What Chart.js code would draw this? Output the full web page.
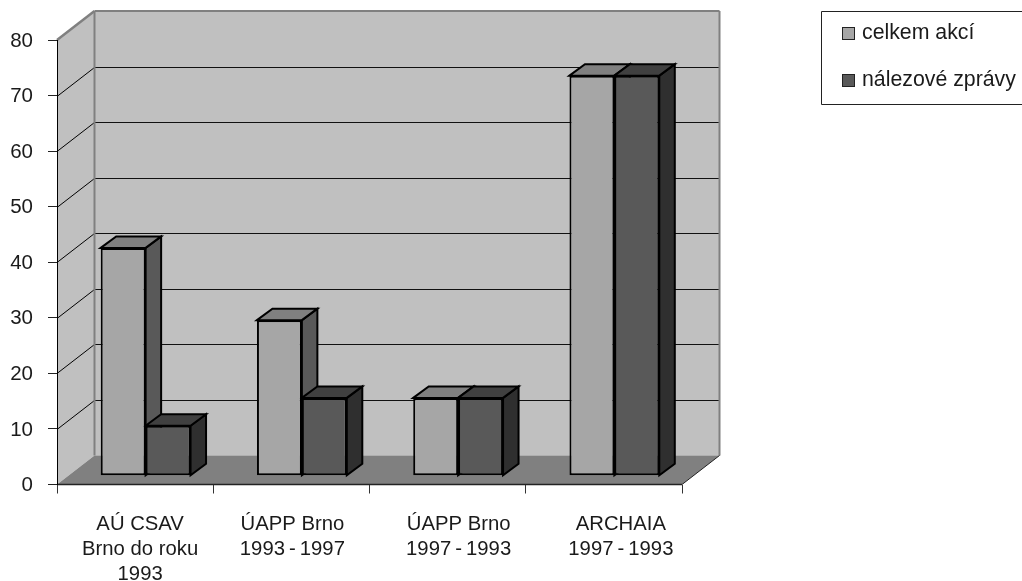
<!DOCTYPE html>
<html><head><meta charset="utf-8">
<style>html,body{margin:0;padding:0;background:#fff}canvas{display:block}</style>
<script src="https://cdn.jsdelivr.net/npm/chart.js@4"></script>
</head><body><canvas id="c" width="1022" height="581"></canvas>
<script>
const categories = [["AÚ CSAV","Brno do roku","1993"],["ÚAPP Brno","1993\u2009-\u20091997"],["ÚAPP Brno","1997\u2009-\u20091993"],["ARCHAIA","1997\u2009-\u20091993"]];
const celkemAkci = [41,28,14,72];
const nalezoveZpravy = [9,14,14,72];
const seriesNames = ["celkem akcí","nálezové zprávy"];
const yTicks = [0,10,20,30,40,50,60,70,80];

const FAMILY = '"Liberation Sans", Arial, sans-serif';
const FONT = '21.3px ' + FAMILY;
const WALL = {dx:37.5, dy:-29};
const BAR = {dx:10.5, dy:-8.8, depthX:15.5, depthY:-11.5};
const faces = [
  {front:'#a6a6a6', top:'#808080', side:'#595959'},
  {front:'#595959', top:'#404040', side:'#2f2f2f'}
];
const labelShift = [5,1,11,17];

function poly(ctx,pts,fill,stroke,lw){
  ctx.beginPath();
  pts.forEach((p,i)=>i?ctx.lineTo(p[0],p[1]):ctx.moveTo(p[0],p[1]));
  ctx.closePath();
  if(fill){ctx.fillStyle=fill;ctx.fill();}
  if(stroke){ctx.strokeStyle=stroke;ctx.lineWidth=lw;ctx.lineJoin='miter';ctx.stroke();}
}
function line(ctx,x1,y1,x2,y2,c,w){
  ctx.beginPath();ctx.moveTo(x1,y1);ctx.lineTo(x2,y2);ctx.strokeStyle=c;ctx.lineWidth=w;ctx.stroke();
}
const scene3d = {
  id:'scene3d',
  beforeDraw(chart){
    const {ctx,chartArea:a,scales:{y,x}}=chart;
    const d=WALL;
    ctx.save();
    poly(ctx,[[a.left+d.dx,a.top+d.dy],[a.right+d.dx,a.top+d.dy],[a.right+d.dx,a.bottom+d.dy],[a.left+d.dx,a.bottom+d.dy]],'#c0c0c0');
    poly(ctx,[[a.left,a.top],[a.left+d.dx,a.top+d.dy],[a.left+d.dx,a.bottom+d.dy],[a.left,a.bottom]],'#c0c0c0');
    poly(ctx,[[a.left,a.bottom],[a.left+d.dx,a.bottom+d.dy],[a.right+d.dx,a.bottom+d.dy],[a.right,a.bottom]],'#808080');
    yTicks.forEach(v=>{
      const py=Math.round(y.getPixelForValue(v))+0.5;
      if(v>0&&v<80){
        line(ctx,a.left,py,a.left+d.dx,py+d.dy,'#000',1);
        line(ctx,a.left+d.dx,py+d.dy,a.right+d.dx,py+d.dy,'#111',1);
      }
    });
    line(ctx,a.left+d.dx,a.top+d.dy,a.right+d.dx,a.top+d.dy,'#808080',2);
    line(ctx,a.left,a.top,a.left+d.dx,a.top+d.dy,'#808080',2.5);
    line(ctx,a.left+d.dx,a.top+d.dy,a.left+d.dx,a.bottom+d.dy,'#808080',2);
    line(ctx,a.right+d.dx,a.top+d.dy,a.right+d.dx,a.bottom+d.dy,'#808080',2);
    line(ctx,a.left,a.bottom,a.right,a.bottom,'#222',1.5);
    line(ctx,a.right,a.bottom,a.right+d.dx,a.bottom+d.dy,'#222',1);
    ctx.restore();
    if(!x.$shifted){
      x.getLabelItems().forEach((it,i)=>{it.options.translation[0]+=labelShift[i];});
      y.getLabelItems().forEach(it=>{it.options.translation[1]+=1;});
      x.$shifted=true;
    }
  },
  beforeDatasetsDraw(chart){
    const {ctx}=chart;
    const b=BAR;
    ctx.save();
    ctx.translate(b.dx,b.dy);
    chart.data.datasets.forEach((ds,i)=>{
      chart.getDatasetMeta(i).data.forEach(el=>{
        const p=el.getProps(['x','y','base','width'],true);
        const l=p.x-p.width/2,r=p.x+p.width/2,t=p.y,bt=p.base;
        poly(ctx,[[r,t],[r+b.depthX,t+b.depthY],[r+b.depthX,bt+b.depthY],[r,bt]],faces[i].side,'#000',2);
        poly(ctx,[[l,t],[l+b.depthX,t+b.depthY],[r+b.depthX,t+b.depthY],[r,t]],faces[i].top,'#000',2);
      });
    });
    ctx.restore();
    ctx.save();
    ctx.translate(b.dx,b.dy);
  },
  afterDatasetsDraw(chart){
    chart.ctx.restore();
    const ctx=chart.ctx;
    ctx.save();
    ctx.strokeStyle='#222';ctx.lineWidth=1;
    ctx.beginPath();ctx.moveTo(1022,11.5);ctx.lineTo(821.5,11.5);ctx.lineTo(821.5,104.5);ctx.lineTo(1022,104.5);ctx.stroke();
    const rows=[34,81];
    seriesNames.forEach((n,i)=>{
      ctx.fillStyle=faces[i].front;ctx.strokeStyle='#222';ctx.lineWidth=1;
      ctx.fillRect(842.5,rows[i]-6.5,12,12);ctx.strokeRect(842.5,rows[i]-6.5,12,12);
      ctx.fillStyle='#1a1a1a';ctx.font=FONT;ctx.textBaseline='middle';ctx.textAlign='left';
      ctx.fillText(n,862,rows[i]-1);
    });
    ctx.restore();
  }
};

new Chart(document.getElementById('c'),{
  type:'bar',
  data:{labels:categories,datasets:[
    {label:seriesNames[0],data:celkemAkci,backgroundColor:faces[0].front,borderColor:'#000',borderWidth:2,borderSkipped:false,categoryPercentage:0.575,barPercentage:1},
    {label:seriesNames[1],data:nalezoveZpravy,backgroundColor:faces[1].front,borderColor:'#000',borderWidth:2,borderSkipped:false,categoryPercentage:0.575,barPercentage:1}
  ]},
  plugins:[scene3d],
  options:{
    responsive:false,animation:false,
    layout:{padding:{top:40,right:340,left:0,bottom:0}},
    plugins:{legend:{display:false},tooltip:{enabled:false}},
    scales:{
      x:{
        grid:{drawOnChartArea:false,drawTicks:true,tickLength:9,color:'#333',offset:true},
        border:{display:false},
        ticks:{color:'#1a1a1a',font:{size:20.3,family:FAMILY,lineHeight:1.245},maxRotation:0,minRotation:0,padding:18,autoSkip:false},
        afterFit(s){s.height=581-484.5;}
      },
      y:{
        min:0,max:80,
        afterBuildTicks(s){s.ticks=yTicks.map(v=>({value:v}));},
        grid:{drawOnChartArea:false,drawTicks:true,tickLength:9,color:'#222'},
        border:{display:true,color:'#000',width:1},
        ticks:{color:'#1a1a1a',font:{size:20.5,family:FAMILY},padding:15},
        afterFit(s){s.width=57;}
      }
    }
  }
});
</script></body></html>
